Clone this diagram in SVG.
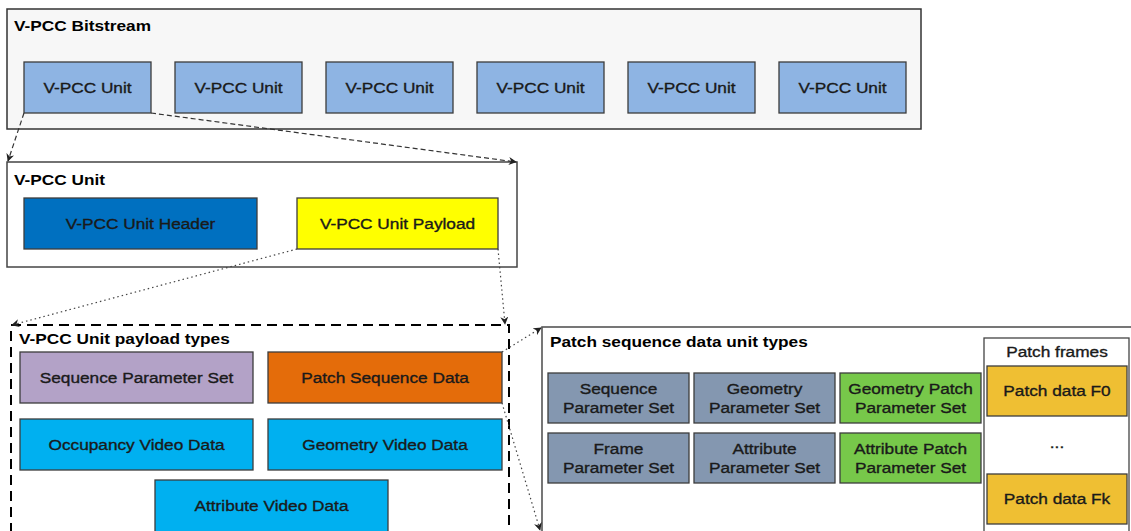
<svg xmlns="http://www.w3.org/2000/svg" width="1131" height="531" viewBox="0 0 1131 531">
<defs>
<style>
text{font-family:"Liberation Sans",Arial,sans-serif;fill:#1a1a1a}
.t{font-size:15px;font-weight:bold;fill:#000}
.l{font-size:15px;text-anchor:middle;stroke:#1a1a1a;stroke-width:0.35}
.box{stroke:#3c3c3c;stroke-width:1.3}
.unit{fill:#8eb4e3}
.hdr{fill:#0070c0}
.pay{fill:#ffff00}
.sps{fill:#b3a2c7}
.psd{fill:#e46c0a}
.vid{fill:#00b0f0}
.slate{fill:#8497b0}
.grn{fill:#77c84a}
.gold{fill:#efbf33}
.dash{fill:none;stroke:#333;stroke-width:1.2;stroke-dasharray:5 3}
.dot{fill:none;stroke:#444;stroke-width:1.2;stroke-dasharray:1.5 3}
</style>
<marker id="ah" viewBox="0 0 10 10" refX="9" refY="5" markerWidth="8" markerHeight="8" orient="auto" markerUnits="userSpaceOnUse">
<path d="M0,0 L10,5 L0,10 L3,5 Z" fill="#222"/>
</marker>
</defs>

<g id="bitstream">
<rect x="7" y="9" width="914" height="120" fill="#f7f7f7" stroke="#333" stroke-width="1.5"/>
<text class="t" transform="translate(14,31) scale(1.15,1)">V-PCC Bitstream</text>
</g>
<g id="unit1"><rect class="box unit" x="24" y="62" width="127" height="51"/><text class="l" transform="translate(87.5,93) scale(1.15,1)">V-PCC Unit</text></g>
<g id="unit2"><rect class="box unit" x="175" y="62" width="127" height="51"/><text class="l" transform="translate(238.5,93) scale(1.15,1)">V-PCC Unit</text></g>
<g id="unit3"><rect class="box unit" x="326" y="62" width="127" height="51"/><text class="l" transform="translate(389.5,93) scale(1.15,1)">V-PCC Unit</text></g>
<g id="unit4"><rect class="box unit" x="477" y="62" width="127" height="51"/><text class="l" transform="translate(540.5,93) scale(1.15,1)">V-PCC Unit</text></g>
<g id="unit5"><rect class="box unit" x="628" y="62" width="127" height="51"/><text class="l" transform="translate(691.5,93) scale(1.15,1)">V-PCC Unit</text></g>
<g id="unit6"><rect class="box unit" x="779" y="62" width="127" height="51"/><text class="l" transform="translate(842.5,93) scale(1.15,1)">V-PCC Unit</text></g>

<g id="vpcc-unit">
<rect x="7" y="162" width="510" height="105" fill="#fff" stroke="#444" stroke-width="1.5"/>
<text class="t" transform="translate(14,185) scale(1.15,1)">V-PCC Unit</text>
</g>
<g id="unit-header"><rect class="box hdr" x="24" y="198" width="233" height="51"/><text class="l" transform="translate(140.5,229) scale(1.15,1)">V-PCC Unit Header</text></g>
<g id="unit-payload"><rect class="box pay" x="297" y="198" width="201" height="51"/><text class="l" transform="translate(397.5,229) scale(1.15,1)">V-PCC Unit Payload</text></g>

<g id="payload-types">
<rect x="11" y="325" width="498" height="230" fill="none" stroke="#000" stroke-width="2" stroke-dasharray="10 6"/>
<text class="t" transform="translate(19,344) scale(1.15,1)">V-PCC Unit payload types</text>
</g>
<g id="sps"><rect class="box sps" x="20" y="352" width="233" height="51"/><text class="l" transform="translate(136.5,383) scale(1.15,1)">Sequence Parameter Set</text></g>
<g id="psd"><rect class="box psd" x="268" y="352" width="234" height="51"/><text class="l" transform="translate(385,383) scale(1.15,1)">Patch Sequence Data</text></g>
<g id="occupancy"><rect class="box vid" x="20" y="419" width="233" height="51"/><text class="l" transform="translate(136.5,450) scale(1.15,1)">Occupancy Video Data</text></g>
<g id="geometry-video"><rect class="box vid" x="268" y="419" width="234" height="51"/><text class="l" transform="translate(385,450) scale(1.15,1)">Geometry Video Data</text></g>
<g id="attribute-video"><rect class="box vid" x="155" y="480" width="233" height="60"/><text class="l" transform="translate(271.5,511) scale(1.15,1)">Attribute Video Data</text></g>

<g id="patch-seq-types">
<rect x="542" y="327" width="610" height="230" fill="#fff" stroke="#555" stroke-width="1.6"/>
<text class="t" transform="translate(550,347) scale(1.15,1)">Patch sequence data unit types</text>
</g>
<g id="psd-sps"><rect class="box slate" x="548" y="373" width="141" height="50"/><text class="l" transform="translate(618.5,394) scale(1.15,1)">Sequence</text><text class="l" transform="translate(618.5,413) scale(1.15,1)">Parameter Set</text></g>
<g id="psd-gps"><rect class="box slate" x="694" y="373" width="141" height="50"/><text class="l" transform="translate(764.5,394) scale(1.15,1)">Geometry</text><text class="l" transform="translate(764.5,413) scale(1.15,1)">Parameter Set</text></g>
<g id="psd-gpps"><rect class="box grn" x="840" y="373" width="141" height="50"/><text class="l" transform="translate(910.5,394) scale(1.15,1)">Geometry Patch</text><text class="l" transform="translate(910.5,413) scale(1.15,1)">Parameter Set</text></g>
<g id="psd-fps"><rect class="box slate" x="548" y="433" width="141" height="50"/><text class="l" transform="translate(618.5,454) scale(1.15,1)">Frame</text><text class="l" transform="translate(618.5,473) scale(1.15,1)">Parameter Set</text></g>
<g id="psd-aps"><rect class="box slate" x="694" y="433" width="141" height="50"/><text class="l" transform="translate(764.5,454) scale(1.15,1)">Attribute</text><text class="l" transform="translate(764.5,473) scale(1.15,1)">Parameter Set</text></g>
<g id="psd-apps"><rect class="box grn" x="840" y="433" width="141" height="50"/><text class="l" transform="translate(910.5,454) scale(1.15,1)">Attribute Patch</text><text class="l" transform="translate(910.5,473) scale(1.15,1)">Parameter Set</text></g>

<g id="patch-frames">
<rect x="984" y="338" width="145" height="220" fill="#fff" stroke="#444" stroke-width="1.3"/>
<text class="l" transform="translate(1057,357) scale(1.15,1)">Patch frames</text>
<text class="l" transform="translate(1057,448) scale(1.15,1)">...</text>
</g>
<g id="patch-f0"><rect class="box gold" x="987" y="366" width="140" height="50"/><text class="l" transform="translate(1057,396) scale(1.15,1)">Patch data F0</text></g>
<g id="patch-fk"><rect class="box gold" x="987" y="474" width="140" height="50"/><text class="l" transform="translate(1057,504) scale(1.15,1)">Patch data Fk</text></g>

<g id="connectors">
<line class="dash" x1="24" y1="113" x2="8" y2="161" marker-end="url(#ah)"/>
<line class="dash" x1="151" y1="113" x2="516" y2="162" marker-end="url(#ah)"/>
<line class="dot" x1="297" y1="249" x2="12" y2="325" marker-end="url(#ah)"/>
<line class="dot" x1="498" y1="249" x2="505" y2="324" marker-end="url(#ah)"/>
<line class="dot" x1="502" y1="352" x2="541" y2="328" marker-end="url(#ah)"/>
<line class="dot" x1="502" y1="403" x2="540" y2="530" marker-end="url(#ah)"/>
</g>
</svg>
